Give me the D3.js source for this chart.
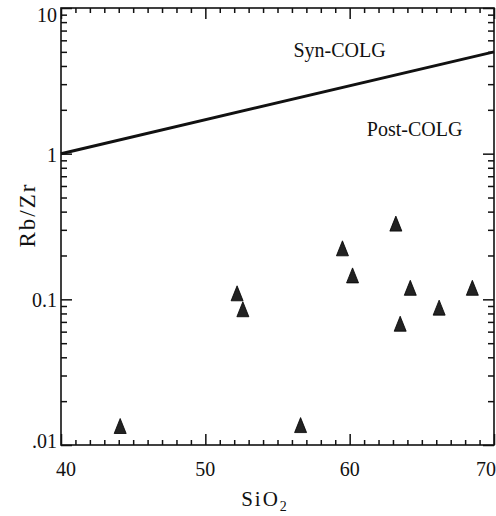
<!DOCTYPE html>
<html>
<head>
<meta charset="utf-8">
<script src="https://cdn.jsdelivr.net/npm/d3@7"></script>
<style>
  body { margin: 0; background: #fff; }
  text { font-family: "Liberation Serif", "Times New Roman", serif; fill: #111; }
</style>
</head>
<body>
<div id="chart"></div>
<script>
// samples
let sio2 = [44.1, 52.2, 52.6, 56.6, 59.5, 60.2, 63.2, 63.5, 64.2, 66.2, 68.5];
let rbzr = [0.0135, 0.11, 0.0855, 0.0137, 0.224, 0.146, 0.331, 0.068, 0.12, 0.0877, 0.12];

// discrimination line Syn-COLG / Post-COLG
let boundaryX = [40, 70];
let boundaryY = [1, 5];

let xMajor = [40, 50, 60, 70];
let yMajor = [0.01, 0.1, 1, 10];
let yLabels = [".01", "0.1", "1", "10"];

let width = 496;
let height = 516;
let margin = {left: 61, right: 2, top: 8, bottom: 71};

let x = d3.scaleLinear().domain([40, 70]).range([margin.left, width - margin.right]);
let y = d3.scaleLog().domain([0.01, 10]).range([height - margin.bottom, margin.top]);

let svg = d3.select("#chart").append("svg")
  .attr("width", width)
  .attr("height", height)
  .attr("font-family", "'Liberation Serif', serif");

let plotL = x.range()[0], plotR = x.range()[1];
let plotB = y.range()[0], plotT = y.range()[1];

// minor ticks every 1 wt%, and 2..9 within each decade
let xMinor = d3.range(40, 71, 1).filter(function(d) { return xMajor.indexOf(d) < 0; });
let yMinor = [];
[0.01, 0.1, 1].forEach(function(dec) {
  for (let k = 2; k <= 9; k++) yMinor.push(dec * k);
});

// inward ticks on all four sides, drawn with d3 axes (labels are placed separately)
function tickAxis(axis, vals, len, tx, ty) {
  let g = svg.append("g")
    .attr("transform", "translate(" + tx + "," + ty + ")")
    .call(axis.tickValues(vals).tickSize(-len).tickFormat(""));
  g.select(".domain").remove();
  g.selectAll(".tick line").attr("stroke", "#111").attr("stroke-width", 1.5);
  return g;
}
tickAxis(d3.axisBottom(x), xMinor, 5, 0, plotB);
tickAxis(d3.axisBottom(x), xMajor, 11, 0, plotB);
tickAxis(d3.axisTop(x), xMinor, 5, 0, plotT);
tickAxis(d3.axisTop(x), xMajor, 11, 0, plotT);
tickAxis(d3.axisLeft(y), yMinor, 6, plotL, 0);
tickAxis(d3.axisLeft(y), yMajor, 11, plotL, 0);
tickAxis(d3.axisRight(y), yMinor, 6, plotR, 0);
tickAxis(d3.axisRight(y), yMajor, 11, plotR, 0);

// frame
svg.append("rect")
  .attr("x", plotL).attr("y", plotT)
  .attr("width", plotR - plotL).attr("height", plotB - plotT)
  .attr("fill", "none").attr("stroke", "#111").attr("stroke-width", 1.6);

// tick labels
svg.selectAll(".xlab").data(xMajor).enter().append("text")
  .attr("class", "xlab")
  .attr("x", function(d, i) { return x(d) + (i === 0 ? 5 : (i === xMajor.length - 1 ? -8 : 0)); })
  .attr("y", plotB + 31)
  .attr("text-anchor", "middle")
  .style("font-size", "20px")
  .text(function(d) { return d; });

svg.selectAll(".ylab").data(yMajor).enter().append("text")
  .attr("class", "ylab")
  .attr("x", plotL - 4)
  .attr("y", function(d, i) {
    // end labels are pulled inside the frame
    let dy = i === yMajor.length - 1 ? 14 : (i === 0 ? 3 : 8);
    return y(d) + dy;
  })
  .attr("text-anchor", "end")
  .style("font-size", "20px")
  .text(function(d, i) { return yLabels[i]; });

// boundary line
let line = d3.line()
  .x(function(d) { return x(d[0]); })
  .y(function(d) { return y(d[1]); });
svg.append("path")
  .datum(d3.zip(boundaryX, boundaryY))
  .attr("d", line)
  .attr("fill", "none")
  .attr("stroke", "#111")
  .attr("stroke-width", 3);

// field labels
svg.append("text").attr("x", x(59.3)).attr("y", y(4.6)).attr("text-anchor", "middle")
  .style("font-size", "20px").text("Syn-COLG");
svg.append("text").attr("x", x(64.5)).attr("y", y(1.33)).attr("text-anchor", "middle")
  .style("font-size", "20px").text("Post-COLG");

// triangles
let tri = "M0,-7.5L6,7.5L-6,7.5Z";
svg.selectAll(".marker").data(d3.zip(sio2, rbzr)).enter().append("path")
  .attr("class", "marker")
  .attr("d", tri)
  .attr("transform", function(d) { return "translate(" + x(d[0]) + "," + y(d[1]) + ")"; })
  .attr("fill", "#222")
  .attr("stroke", "#000")
  .attr("stroke-width", 0.8);

// axis titles
let xt = svg.append("text")
  .attr("x", 265).attr("y", 506)
  .attr("text-anchor", "middle")
  .style("font-size", "21px")
  .style("letter-spacing", "2px");
xt.append("tspan").text("SiO");
xt.append("tspan").attr("dy", 5).style("font-size", "14px").text("2");

svg.append("text")
  .attr("transform", "translate(35,215) rotate(-90)")
  .attr("text-anchor", "middle")
  .style("font-size", "23px")
  .style("letter-spacing", "2px")
  .text("Rb/Zr");
</script>
</body>
</html>
